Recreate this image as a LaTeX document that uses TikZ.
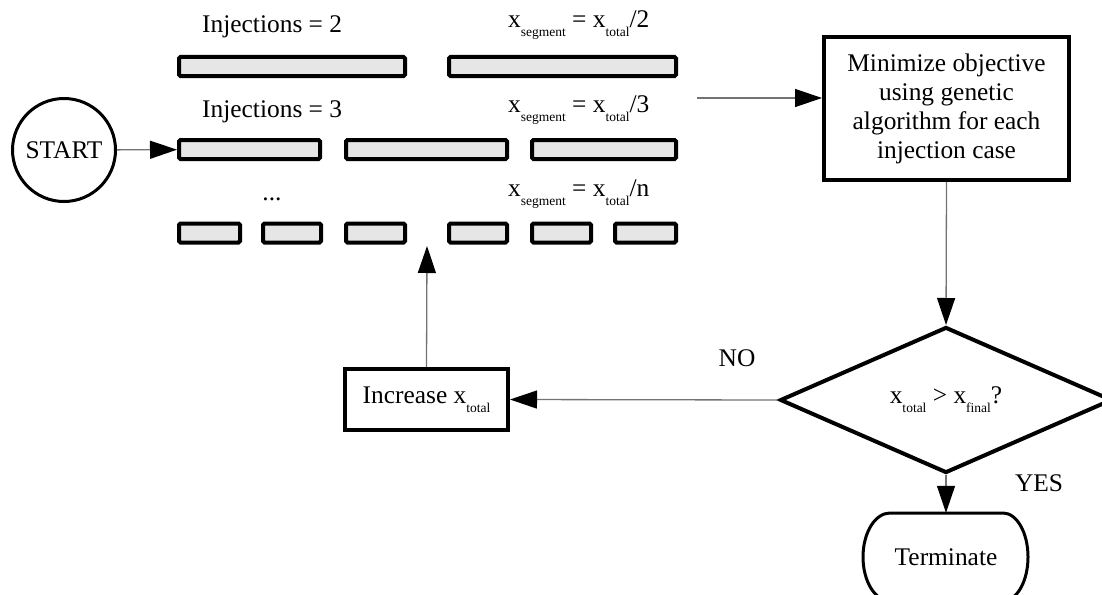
\documentclass[tikz,border=0pt]{standalone}
\usepackage{fontspec}
\setmainfont{Liberation Serif}
\usetikzlibrary{arrows.meta,shapes.geometric}

\definecolor{barfill}{HTML}{E6E6E6}
\definecolor{conngray}{HTML}{737373}

% small lowered index, as in x_total
\newcommand{\sbs}[1]{\raisebox{-9pt}{\fontsize{13.5}{14}\selectfont #1}}

\begin{document}
\begin{tikzpicture}[x=1pt, y=-1pt,
    font=\fontsize{25.4}{29}\selectfont,
    bar/.style={draw, line width=4pt, fill=barfill, rounded corners=1.5pt,
      minimum height=19pt, inner sep=0pt},
    boxnode/.style={draw, line width=4pt, align=center, inner sep=0pt},
    lbl/.style={anchor=base west, inner sep=0pt},
    conn/.style={draw=conngray, line width=1.3pt,
      -{Triangle[length=27pt, width=18pt, color=black]}}]

  \useasboundingbox (0,0) rectangle (1102,594);
  \clip (0,0) rectangle (1102,594);

  % Start
  \node[draw, circle, line width=3pt, minimum size=103pt, inner sep=0pt] (start) at (64,150) {START};

  % Segment rows
  \node[lbl] (inj2) at (202,33) {Injections = 2};
  \node[lbl] (seg2) at (508,28) {x\sbs{segment} = x\sbs{total}/2};
  \foreach \a/\b [count=\i] in {177/407, 447/678}
    \node[bar, minimum width=\b-\a-4] (r1b\i) at ({(\a+\b)/2}, 66.5) {};

  \node[lbl] (inj3) at (202,117) {Injections = 3};
  \node[lbl] (seg3) at (508,112) {x\sbs{segment} = x\sbs{total}/3};
  \foreach \a/\b [count=\i] in {177/322, 344/509, 530/678}
    \node[bar, minimum width=\b-\a-4] (r2b\i) at ({(\a+\b)/2}, 149.5) {};

  \node[anchor=base, inner sep=0pt] (dotsn) at (272,200) {...};
  \node[lbl] (segn) at (508,196) {x\sbs{segment} = x\sbs{total}/n};
  \foreach \a/\b [count=\i] in {177/242, 261/323, 344/407, 447/509, 530/593, 613/678}
    \node[bar, minimum width=\b-\a-4] (r3b\i) at ({(\a+\b)/2}, 233) {};

  % Optimisation and test
  \node[boxnode, minimum width=245pt, minimum height=143pt] (mini) at (946.5,108.5)
    {Minimize objective\\using genetic\\algorithm for each\\injection case};
  \node[draw, diamond, line width=4pt, minimum width=332pt, minimum height=146pt,
    inner sep=0pt] (dec) at (946,400) {x\sbs{total} > x\sbs{final}?};
  \node[boxnode, minimum width=163pt, minimum height=61pt] (inc) at (426.5,399.5)
    {Increase x\sbs{total}};

  % Terminate
  \node[minimum width=165pt, minimum height=88pt, inner sep=0pt] (term) at (946,557) {Terminate};
  \draw[line width=3pt] (890,513) -- (1003,513)
    arc[start angle=-90, end angle=90, x radius=25, y radius=44]
    -- (890,601)
    arc[start angle=90, end angle=270, x radius=27, y radius=44] -- cycle;

  \node (no) at (737,358) {NO};
  \node (yes) at (1039,483) {YES};

  % Connectors
  \coordinate (gaIn) at (697,98);
  \coordinate (loopIn) at (427,246);
  \draw[conn] (start) -- (r2b1);
  \draw[conn] (gaIn) -- (gaIn -| mini.west);
  \draw[conn] (mini.south) -- (dec.north);
  \draw[conn] (dec.west) -- (inc.east);
  \draw[conn] (inc.north) -- (loopIn);
  \draw[conn] (dec.south) -- (term.north);

\end{tikzpicture}
\end{document}
